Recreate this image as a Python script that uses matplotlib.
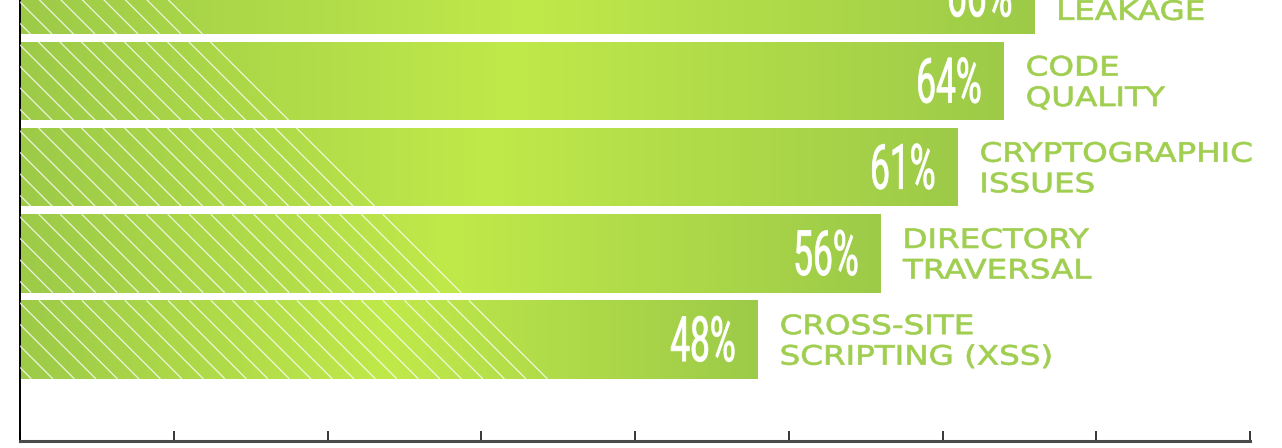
#!/usr/bin/env python3
import matplotlib
matplotlib.use('Agg')
import matplotlib.pyplot as plt
import matplotlib.patheffects as pe
import numpy as np
from matplotlib.collections import LineCollection
from matplotlib.colors import LinearSegmentedColormap
from matplotlib.transforms import Affine2D

# data (top bar is cut off by the frame in the original)
label_line1 = ['INFORMATION', 'CODE', 'CRYPTOGRAPHIC', 'DIRECTORY', 'CROSS-SITE']
label_line2 = ['LEAKAGE', 'QUALITY', 'ISSUES', 'TRAVERSAL', 'SCRIPTING (XSS)']
values = [66, 64, 61, 56, 48]
x_ticks = [0, 10, 20, 30, 40, 50, 60, 70, 80]

# styles
GREEN_DARK = '#9dcb48'
GREEN_LIGHT = '#c0e94a'
LABEL_GREEN = '#a0ce50'
HATCH_EDGE = 34.3      # where the last hatch line meets the bottom of the lowest bar
HATCH_STEP = 21.5      # px between hatch lines


class Stretch(pe.AbstractPathEffect):
    """scale the text path horizontally around its left or right edge,
    with an optional thin outline to make the glyphs a bit heavier"""
    def __init__(self, sx, anchor='left', stroke=0.0):
        super().__init__()
        self.sx = sx
        self.anchor = anchor
        self.stroke = stroke

    def draw_path(self, renderer, gc, tpath, affine, rgbFace=None):
        bb = tpath.get_extents(affine)
        x0 = bb.x0 if self.anchor == 'left' else bb.x1
        squeeze = Affine2D().translate(-x0, 0).scale(self.sx, 1).translate(x0, 0)
        gc0 = renderer.new_gc()
        gc0.copy_properties(gc)
        if self.stroke > 0 and rgbFace is not None:
            gc0.set_linewidth(self.stroke)
            gc0.set_foreground(rgbFace)
        renderer.draw_path(gc0, tpath, affine + squeeze, rgbFace)
        gc0.restore()


fig = plt.figure(figsize=(12.82, 4.48), dpi=100)
ax = fig.add_axes([20 / 1282, 7 / 448, 1230 / 1282, 441 / 448])

ypos = np.arange(len(values))
bar_h = 0.91
bars = ax.barh(ypos, values, height=bar_h, color=GREEN_DARK, zorder=1)

ax.set_xlim(0, 80)
ax.set_ylim(5.176, 0.0603)

cmap = LinearSegmentedColormap.from_list('g', [GREEN_DARK, GREEN_LIGHT, GREEN_DARK])
grad = np.linspace(0, 1, 256).reshape(1, -1)

# hatch: parallel 45 degree lines (in pixels), clipped to the bars
to_px = ax.transData
to_data = ax.transData.inverted()
last_bottom = ypos[-1] + bar_h / 2
ex, ey = to_px.transform((HATCH_EDGE, last_bottom))
k_last = ex + ey

for i, bar in enumerate(bars):
    x0, y0 = bar.get_x(), bar.get_y()
    w, h = bar.get_width(), bar.get_height()
    im = ax.imshow(grad, extent=(x0, x0 + w, y0 + h, y0), aspect='auto',
                   cmap=cmap, interpolation='bilinear', zorder=2)
    im.set_clip_path(bar)

    (_, py_top), (_, py_bot) = to_px.transform([(0, y0), (0, y0 + h)])
    segs = []
    k = k_last
    while k > to_px.transform((0, 0))[0] + min(py_top, py_bot) - 5:
        p1 = to_data.transform((k - py_top, py_top))
        p2 = to_data.transform((k - py_bot, py_bot))
        segs.append([p1, p2])
        k -= HATCH_STEP
    lc = LineCollection(segs, colors='white', linewidths=0.9, alpha=0.8, zorder=3)
    lc.set_clip_path(bar)
    ax.add_collection(lc)

    v = values[i]
    ax.annotate(f'{v}%', xy=(v, ypos[i]), xytext=(-21, -21.5),
                textcoords='offset pixels', ha='right', va='baseline',
                color='white', fontsize=45, fontfamily='Roboto', fontweight='normal',
                path_effects=[Stretch(0.565, 'right', stroke=0.6)],
                annotation_clip=False, zorder=4)
    ax.annotate(label_line1[i], xy=(v, ypos[i]), xytext=(22, 5.5),
                textcoords='offset pixels', ha='left', va='baseline',
                color=LABEL_GREEN, fontsize=19.2, fontfamily='DejaVu Sans',
                path_effects=[Stretch(1.22, 'left', stroke=0.5)], annotation_clip=False)
    ax.annotate(label_line2[i], xy=(v, ypos[i]), xytext=(22, -25),
                textcoords='offset pixels', ha='left', va='baseline',
                color=LABEL_GREEN, fontsize=19.2, fontfamily='DejaVu Sans',
                path_effects=[Stretch(1.22, 'left', stroke=0.5)], annotation_clip=False)

ax.set_xlim(0, 80)
ax.set_ylim(5.176, 0.0603)

# axes frame
ax.set_xticks(x_ticks)
ax.set_xticklabels([])
ax.set_yticks([])
ax.tick_params(axis='x', direction='in', length=7.5, width=1.1, color='black')
ax.spines['top'].set_visible(False)
ax.spines['right'].set_visible(False)
ax.spines['left'].set_linewidth(1.4)
ax.spines['left'].set_color('black')
ax.spines['bottom'].set_linewidth(2.2)
ax.spines['bottom'].set_color('#4a4a4a')

fig.savefig('out.png', dpi=100)
